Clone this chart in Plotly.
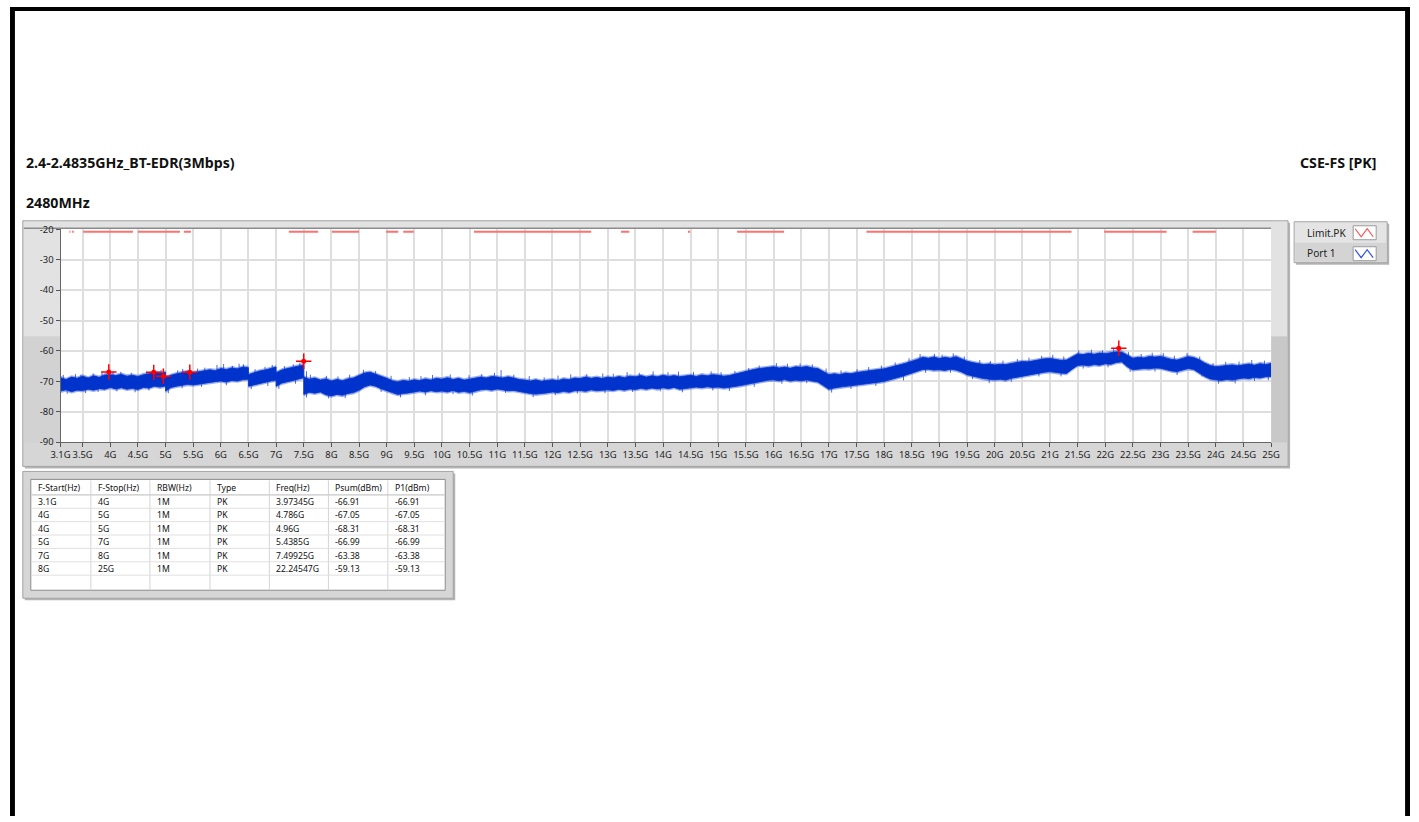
import plotly.graph_objects as go

W, H = 1419, 822
# the screenshot pipeline shrinks the page slightly about its centre; coordinates below are
# given in reference-image pixels and mapped back through that factor
S, CX, CY = 0.9856, 709.5, 411.0

# ---------------- data ----------------
# Port 1 trace envelope (dBm), 0.1 GHz sampling, split at sweep steps
seg_start = [3.1, 5.0, 6.5, 7.0, 7.5]
upper_a = [-68.8, -69.4, -68.6, -69.0, -68.3, -68.9, -68.2, -68.7, -67.9, -67.8,
           -68.1, -67.7, -68.3, -68.0, -68.4, -67.8, -67.5, -67.1, -67.4, -67.0]
lower_a = [-73.2, -72.8, -73.4, -72.9, -73.0, -72.6, -72.9, -72.4, -72.6, -72.0,
           -72.5, -72.1, -72.6, -72.3, -72.7, -72.0, -72.2, -71.6, -71.9, -71.5]
upper_b = [-68.8, -68.0, -67.5, -67.2, -66.8, -67.2, -66.9, -66.6, -66.2, -66.5,
           -65.8, -66.1, -65.6, -65.9, -65.3, -65.5]
lower_b = [-73.2, -72.0, -71.6, -71.2, -71.0, -71.2, -70.8, -70.6, -70.4, -70.1,
           -69.9, -70.2, -69.7, -69.9, -69.4, -69.3]
upper_c = [-67.8, -67.2, -66.6, -66.3, -65.8, -65.3]
lower_c = [-71.6, -71.2, -70.8, -70.3, -69.9, -69.6]
upper_d = [-67.2, -66.3, -65.8, -65.4, -65.0, -64.6]
lower_d = [-71.6, -70.6, -70.1, -69.6, -69.2, -68.8]
upper_e = [-68.6, -69.3, -68.9, -69.6, -69.2,
           -69.9, -69.4, -69.8, -69.2, -68.9, -68.1, -67.3, -67.0, -67.6, -68.3,
           -69.0, -69.8, -70.2, -69.7, -70.0, -69.5, -69.8, -69.2, -69.6, -69.0,
           -69.3, -68.8, -69.4, -69.0, -69.6, -69.3, -69.0, -68.6, -68.9, -68.4,
           -68.6, -68.9, -68.5, -69.0, -69.4, -69.6, -69.9, -69.5, -70.0, -69.7,
           -69.5, -69.8, -69.2, -69.5, -68.9, -69.1, -68.6, -69.0, -68.7, -69.1,
           -68.6, -68.9, -68.4, -68.8, -68.3, -68.5, -68.1, -68.6, -68.2, -68.5,
           -68.0, -68.4, -68.1, -68.5, -68.2, -68.0, -68.4, -67.9, -68.2, -67.8,
           -68.0, -68.3, -68.1, -67.6, -67.1, -66.8, -66.3, -65.9, -65.6, -65.4,
           -65.2, -65.6, -65.3, -65.7, -65.2, -65.4, -65.1, -65.6, -65.8, -66.8,
           -67.8, -67.5, -67.8, -67.3, -67.5, -67.1, -66.8, -66.6, -66.4, -66.1,
           -65.9, -65.5, -65.0, -64.5, -64.0, -63.5, -62.8, -62.1, -62.4, -62.0,
           -62.5, -62.1, -62.4, -61.9, -62.7, -63.4, -63.8, -64.2, -64.5, -64.3,
           -64.6, -64.4, -64.5, -64.1, -63.8, -63.5, -63.6, -63.2, -62.9, -62.6,
           -62.5, -62.8, -63.1, -63.0, -62.0, -61.0, -61.2, -60.8, -61.1, -60.7,
           -60.9, -60.5, -60.3, -60.4, -61.5, -62.4, -62.1, -62.3, -61.8, -62.0,
           -61.8, -62.3, -62.8, -63.0, -62.4, -61.9, -62.2, -62.9, -64.0, -64.8,
           -65.2, -65.0, -64.7, -64.6, -64.9, -64.6, -64.3, -64.7, -64.2, -64.5,
           -64.1]
lower_e = [-74.3, -73.6, -73.9, -73.5, -74.4,
           -74.8, -74.3, -74.6, -74.0, -73.7, -72.9, -71.8, -71.2, -71.6, -72.4,
           -73.1, -73.7, -74.3, -74.0, -73.8, -73.6, -73.2, -73.5, -73.1, -73.4,
           -73.2, -73.5, -73.0, -73.6, -73.3, -73.7, -73.2, -72.8, -72.6, -72.9,
           -72.5, -72.8, -73.1, -73.0, -73.5, -73.7, -74.0, -74.2, -74.0, -73.8,
           -73.5, -73.7, -73.3, -73.6, -73.1, -73.0, -73.3, -72.8, -73.1, -72.9,
           -72.8, -73.0, -72.6, -72.9, -72.5, -72.7, -72.3, -72.6, -72.2, -72.5,
           -72.1, -72.4, -72.0, -72.6, -72.3, -72.2, -71.9, -72.1, -71.8, -72.0,
           -71.9, -72.2, -72.0, -71.7, -71.4, -71.0, -70.6, -70.2, -70.0, -69.6,
           -69.5, -69.8, -69.4, -69.9, -69.6, -69.8, -69.5, -69.9, -70.2, -71.4,
           -72.6, -72.2, -71.9, -71.7, -71.5, -71.3, -71.0, -70.8, -70.5, -70.3,
           -70.0, -69.6, -69.0, -68.5, -67.9, -67.4, -66.7, -66.1, -66.0, -66.3,
           -66.2, -66.4, -66.0, -66.3, -66.9, -67.8, -68.3, -68.7, -69.1, -69.4,
           -69.5, -69.3, -69.6, -69.0, -68.7, -68.4, -68.0, -67.6, -67.3, -67.0,
           -66.8, -67.0, -67.3, -67.4, -66.0, -64.8, -64.6, -64.9, -64.5, -64.7,
           -64.2, -64.4, -63.8, -63.6, -65.2, -66.2, -66.0, -65.8, -65.9, -65.6,
           -65.7, -66.1, -66.6, -66.8, -66.2, -65.8, -66.1, -67.2, -68.4, -69.2,
           -69.5, -69.7, -69.4, -69.6, -69.2, -68.9, -69.1, -68.7, -68.9, -68.5,
           -68.4]
upper_segs = [upper_a, upper_b, upper_c, upper_d, upper_e]
lower_segs = [lower_a, lower_b, lower_c, lower_d, lower_e]

# individual noise spikes sticking out of the band (GHz, dBm)
spike_up_f = [3.15, 3.37, 3.47, 3.69, 3.85, 4.05, 4.19, 4.38, 4.66, 4.77, 4.92, 5.22, 5.31, 5.58, 5.71,
              5.93, 6.05, 6.21, 6.33, 6.41, 6.62, 6.8, 6.93, 7.15, 7.31, 7.43, 7.62, 7.91, 8.12, 8.33,
              8.58, 8.8, 9.08, 9.41, 9.62, 9.83, 10.15, 10.49, 10.72, 10.95, 11.07, 11.3, 11.58, 11.85,
              12.1, 12.33, 12.62, 12.91, 13.1, 13.35, 13.57, 13.82, 14.09, 14.28, 14.55, 14.87, 15.05,
              15.3, 15.55, 15.74, 16.05, 16.25, 16.48, 16.7, 16.95, 17.22, 17.51, 17.72, 17.95, 18.2,
              18.45, 18.65, 18.91, 19.05, 19.25, 19.45, 19.73, 19.92, 20.15, 20.41, 20.62, 20.85, 21.05,
              21.25, 21.52, 21.75, 21.95, 22.15, 22.42, 22.65, 22.85, 23.05, 23.25, 23.48, 23.71, 23.95,
              24.18, 24.42, 24.65, 24.88]
spike_up_db = [-67.9, -67.6, -67.8, -67.4, -67.0, -66.8, -66.9, -67.2, -66.8, -66.2, -66.3, -66.4, -65.9,
               -65.8, -65.5, -64.6, -64.3, -64.9, -64.2, -64.4, -66.0, -65.2, -64.6, -65.0, -64.4, -63.8,
               -67.8, -68.2, -68.4, -67.8, -66.2, -66.6, -68.2, -68.6, -68.3, -67.9, -67.7, -68.0, -67.6,
               -67.2, -66.3, -67.8, -68.3, -68.7, -68.1, -67.7, -67.6, -67.4, -67.5, -67.0, -67.2, -66.7,
               -67.0, -66.8, -66.9, -66.7, -67.0, -66.6, -65.6, -64.8, -64.0, -64.2, -64.1, -64.4, -65.8,
               -66.4, -66.0, -65.3, -64.8, -63.8, -62.4, -61.0, -61.0, -61.2, -60.8, -61.8, -63.0, -63.3,
               -63.2, -62.7, -62.2, -61.6, -61.3, -61.8, -59.8, -59.6, -59.8, -59.4, -60.4, -61.0, -60.6,
               -60.7, -61.6, -60.7, -61.8, -64.0, -63.6, -63.5, -63.0, -63.2]
spike_dn_f = [3.22, 3.55, 3.78, 4.12, 4.45, 4.7, 5.05, 5.3, 5.65, 6.1, 6.55, 6.85, 7.05, 7.35, 7.55, 7.95,
              8.25, 8.9, 9.25, 9.7, 10.2, 10.55, 11.15, 11.65, 12.05, 12.45, 12.95, 13.45, 13.95, 14.35,
              14.9, 15.2, 15.65, 16.15, 16.6, 17.05, 17.4, 17.85, 18.35, 18.75, 19.2, 19.6, 19.9, 20.3,
              20.8, 21.2, 21.6, 22.05, 22.45, 22.9, 23.3, 23.75, 24.05, 24.35, 24.7, 24.95]
spike_dn_db = [-74.1, -73.9, -73.5, -73.3, -73.6, -73.0, -73.9, -72.3, -71.8, -71.3, -72.6, -71.5, -72.5,
               -70.8, -75.3, -75.6, -75.5, -73.5, -75.3, -74.6, -74.2, -74.7, -73.8, -75.2, -74.6, -74.0,
               -73.9, -73.5, -73.3, -73.6, -73.0, -73.2, -71.8, -70.8, -70.6, -73.7, -72.5, -71.5, -69.7,
               -67.2, -67.2, -69.3, -70.6, -70.2, -68.4, -68.4, -65.8, -65.4, -66.9, -66.8, -67.9, -68.4,
               -70.8, -70.7, -69.9, -69.6]

# Limit.PK (restricted band) segments, GHz, level dBm
limit_level = -20.8
limit_start = [3.26, 3.31, 3.51, 4.50, 5.33, 7.23, 8.01, 8.99, 9.30, 10.58, 13.24, 14.45, 15.34, 17.68, 21.98, 23.58]
limit_stop = [3.28, 3.34, 4.41, 5.26, 5.46, 7.76, 8.50, 9.21, 9.49, 12.70, 13.39, 14.49, 16.19, 21.39, 23.11, 24.00]

# Peak table
table_header = ["F-Start(Hz)", "F-Stop(Hz)", "RBW(Hz)", "Type", "Freq(Hz)", "Psum(dBm)", "P1(dBm)"]
col_fstart = ["3.1G", "4G", "4G", "5G", "7G", "8G"]
col_fstop = ["4G", "5G", "5G", "7G", "8G", "25G"]
col_rbw = ["1M", "1M", "1M", "1M", "1M", "1M"]
col_type = ["PK", "PK", "PK", "PK", "PK", "PK"]
col_freq = ["3.97345G", "4.786G", "4.96G", "5.4385G", "7.49925G", "22.24547G"]
col_psum = ["-66.91", "-67.05", "-68.31", "-66.99", "-63.38", "-59.13"]
col_p1 = ["-66.91", "-67.05", "-68.31", "-66.99", "-63.38", "-59.13"]

peak_freq = [3.97345, 4.786, 4.96, 5.4385, 7.49925, 22.24547]
peak_level = [-66.91, -67.05, -68.31, -66.99, -63.38, -59.13]

x_tick_vals = [3.1, 3.5, 4, 4.5, 5, 5.5, 6, 6.5, 7, 7.5, 8, 8.5, 9, 9.5, 10, 10.5, 11, 11.5, 12, 12.5,
               13, 13.5, 14, 14.5, 15, 15.5, 16, 16.5, 17, 17.5, 18, 18.5, 19, 19.5, 20, 20.5, 21,
               21.5, 22, 22.5, 23, 23.5, 24, 24.5, 25]
x_tick_text = ["3.1G", "3.5G", "4G", "4.5G", "5G", "5.5G", "6G", "6.5G", "7G", "7.5G", "8G", "8.5G",
               "9G", "9.5G", "10G", "10.5G", "11G", "11.5G", "12G", "12.5G", "13G", "13.5G", "14G",
               "14.5G", "15G", "15.5G", "16G", "16.5G", "17G", "17.5G", "18G", "18.5G", "19G",
               "19.5G", "20G", "20.5G", "21G", "21.5G", "22G", "22.5G", "23G", "23.5G", "24G",
               "24.5G", "25G"]
y_tick_vals = [-20, -30, -40, -50, -60, -70, -80, -90]
y_tick_text = ["-20", "-30", "-40", "-50", "-60", "-70", "-80", "-90"]


# ---------------- helpers (reference pixel -> paper) ----------------
def px(x):
    return (CX + (x - CX) / S) / W


def py(y):
    return 1 - (CY + (y - CY) / S) / H


def fs(size):
    return round(size / S, 2)


FONT = "Noto Sans"
BLUE = "#0033CC"

fx, fu, fl = [], [], []
for s0, us, ls in zip(seg_start, upper_segs, lower_segs):
    for i, (u, l) in enumerate(zip(us, ls)):
        fx.append(round(s0 + 0.1 * i, 3))
        fu.append(u)
        fl.append(l)
band_x = fx + fx[::-1]
band_y = fu + fl[::-1]
halo_y = [u + 0.6 for u in fu] + [l - 0.6 for l in fl[::-1]]


def mid_at(f):
    k = min(range(len(fx)), key=lambda j: abs(fx[j] - f))
    return (fu[k] + fl[k]) / 2


sp_x, sp_y = [], []
for f, v in list(zip(spike_up_f, spike_up_db)) + list(zip(spike_dn_f, spike_dn_db)):
    sp_x += [f, f, None]
    sp_y += [mid_at(f), v, None]

lim_x, lim_y = [], []
for a, b in zip(limit_start, limit_stop):
    lim_x += [a, b, None]
    lim_y += [limit_level, limit_level, None]

fig = go.Figure()
fig.add_trace(go.Scatter(x=band_x, y=halo_y, mode="lines", fill="toself", fillcolor="rgba(40,80,220,0.45)",
                         line=dict(width=0), showlegend=False, hoverinfo="skip"))
fig.add_trace(go.Scatter(x=sp_x, y=sp_y, mode="lines", line=dict(color="rgba(30,70,215,0.8)", width=1),
                         showlegend=False, hoverinfo="skip"))
fig.add_trace(go.Scatter(x=band_x, y=band_y, mode="lines", fill="toself", fillcolor=BLUE,
                         line=dict(color=BLUE, width=0.8), showlegend=False, hoverinfo="skip"))
fig.add_trace(go.Scatter(x=lim_x, y=lim_y, mode="lines", line=dict(color="#FF7070", width=2),
                         showlegend=False, hoverinfo="skip"))
fig.add_trace(go.Scatter(x=peak_freq, y=peak_level, mode="markers",
                         marker=dict(symbol="cross-thin", size=11, line=dict(color="#FF0000", width=1.5)),
                         showlegend=False))
fig.add_trace(go.Scatter(x=peak_freq, y=peak_level, mode="markers",
                         marker=dict(symbol="circle", size=5, color="#FF0000"), showlegend=False))

shapes = []
annotations = []


def rect(x0, y0, x1, y1, fill, line=None, lw=1, layer="below"):
    shapes.append(dict(type="rect", xref="paper", yref="paper", x0=px(x0), x1=px(x1), y0=py(y1), y1=py(y0),
                       fillcolor=fill, line=dict(color=line or fill, width=lw if line else 0), layer=layer))


def rect_page(x0, y0, x1, y1, fill):
    shapes.append(dict(type="rect", xref="paper", yref="paper", x0=x0 / W, x1=x1 / W, y0=1 - y1 / H,
                       y1=1 - y0 / H, fillcolor=fill, line=dict(width=0), layer="above"))


def hline(x0, x1, y, color, lw=1, layer="below"):
    shapes.append(dict(type="line", xref="paper", yref="paper", x0=px(x0), x1=px(x1), y0=py(y), y1=py(y),
                       line=dict(color=color, width=lw), layer=layer))


def vline(x, y0, y1, color, lw=1, layer="below"):
    shapes.append(dict(type="line", xref="paper", yref="paper", x0=px(x), x1=px(x), y0=py(y0), y1=py(y1),
                       line=dict(color=color, width=lw), layer=layer))


def text(t, x, y, size, anchor="left", color="#111"):
    annotations.append(dict(text=t, x=px(x), y=py(y), xref="paper", yref="paper", showarrow=False,
                            xanchor=anchor, yanchor="middle", font=dict(family=FONT, size=fs(size), color=color)))


# page black frame, as close to the page edges as the page allows
rect_page(0, 0, 1419, 4, "black")
rect_page(0, 0, 5, 822, "black")
rect_page(1414, 0, 1419, 822, "black")

# chart panel
rect(25, 222, 1289, 468, "#B4B4B4")
rect(23, 220, 1287, 466, "#D6D6D6", "#A4A4A4")
rect(24, 221, 1286, 228, "#E2E2E2")
rect(24, 221, 60.5, 336, "#E2E2E2")
rect(24, 336, 60.5, 442, "#D2D2D2")
rect(1270, 221, 1286, 336, "#E2E2E2")
rect(1270, 336, 1286, 442, "#C8C8C8")
rect(60.5, 228, 1270, 442, "white")
hline(24, 1270, 227.5, "#8C8C8C", 1.5)

# legend panel
rect(1295, 223, 1388, 264, "#B4B4B4")
rect(1293, 221, 1386, 262, "#E4E4E4", "#A4A4A4")
rect(1294, 242, 1385, 261, "#D4D4D4")
rect(1352, 225, 1375, 239, "white", "#9A9A9A")
rect(1352, 246, 1375, 260, "white", "#9A9A9A")


def zig(x0, y0, color):
    pts = [(x0 + 2, y0 + 3), (x0 + 8, y0 + 11), (x0 + 14, y0 + 3), (x0 + 20, y0 + 11)]
    path = "M " + " L ".join(f"{px(a)},{py(b)}" for a, b in pts)
    shapes.append(dict(type="path", xref="paper", yref="paper", path=path,
                       line=dict(color=color, width=1.2), layer="above"))


zig(1352, 225, "#FF5050")
zig(1352, 246, "#3050E0")
text("Limit.PK", 1304, 232.5, 10, color="#222")
text("Port 1", 1304, 252.5, 10, color="#222")

# titles
text("<b>2.4-2.4835GHz_BT-EDR(3Mbps)</b>", 24, 162, 14)
text("<b>CSE-FS [PK]</b>", 1377, 162, 14, anchor="right")
text("<b>2480MHz</b>", 24, 202, 14)

# table panel
rect(25, 473, 455, 600, "#B4B4B4")
rect(23, 471, 453, 598, "#D6D6D6", "#A4A4A4")
rect(31, 479, 445, 590, "white", "#8C8C8C")
col_edges = [31, 91, 150, 210, 269.3, 328.3, 387.7, 445]
row_edges = [479, 494.5, 507.9, 521.3, 534.7, 548.1, 561.5, 574.9, 588.3]
for xe in col_edges[1:-1]:
    vline(xe, 480, 590, "#D4D4D4")
for ye in row_edges[1:-1]:
    hline(31.5, 444.5, ye, "#E0E0E0")
hline(31.5, 444.5, row_edges[1], "#C8C8C8")
columns = [col_fstart, col_fstop, col_rbw, col_type, col_freq, col_psum, col_p1]
for c, (hdr, vals) in enumerate(zip(table_header, columns)):
    x0 = col_edges[c] + 5.0
    text(hdr, x0, (row_edges[0] + row_edges[1]) / 2 + 0.5, 8.5)
    for r, v in enumerate(vals):
        text(v, x0, (row_edges[r + 1] + row_edges[r + 2]) / 2 + 0.5, 8.5)

TICKFONT = dict(family=FONT, size=fs(9.3), color="#222")
fig.update_layout(
    width=W, height=H, margin=dict(l=0, r=0, t=0, b=0),
    paper_bgcolor="white", plot_bgcolor="rgba(0,0,0,0)",
    shapes=shapes, annotations=annotations, showlegend=False,
    font=dict(family=FONT, color="#222"),
    xaxis=dict(domain=[px(60.7), px(1270)], range=[3.1, 25], tickvals=x_tick_vals, ticktext=x_tick_text,
               showgrid=True, gridcolor="#DEDEDE", gridwidth=1.5, zeroline=False,
               ticks="outside", ticklen=4, tickcolor="#555", showline=True, linecolor="#666", linewidth=1,
               tickfont=TICKFONT, tickangle=0),
    yaxis=dict(domain=[py(441.7), py(228.5)], range=[-90, -20], tickvals=y_tick_vals, ticktext=y_tick_text,
               showgrid=True, gridcolor="#DEDEDE", gridwidth=1.5, zeroline=False,
               ticks="outside", ticklen=4, tickcolor="#555", showline=True, linecolor="#666", linewidth=1,
               tickfont=TICKFONT),
)

fig.write_html("out.html", config={"displayModeBar": False},
               post_script="document.body.style.margin='0';document.body.style.overflow='hidden';")
